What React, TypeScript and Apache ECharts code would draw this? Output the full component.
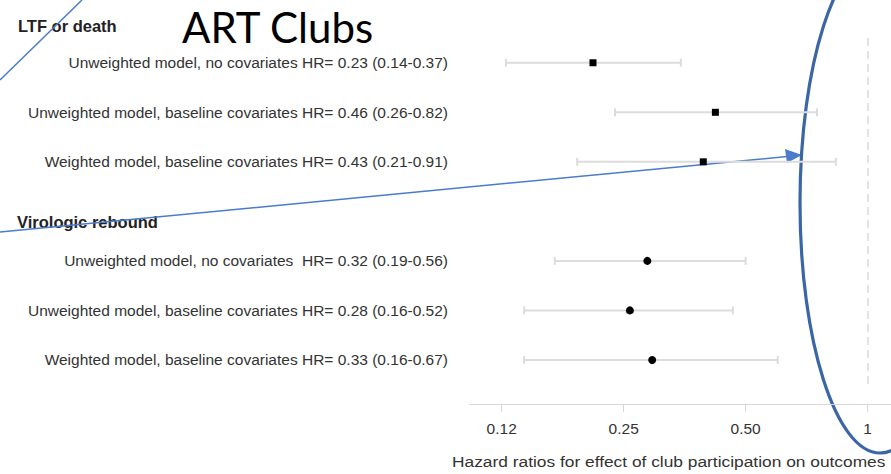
import React, { useEffect, useRef } from "react";
import * as echarts from "echarts";

const categories = [
  "Unweighted model, no covariates HR= 0.23 (0.14-0.37)",
  "Unweighted model, baseline covariates HR= 0.46 (0.26-0.82)",
  "Weighted model, baseline covariates HR= 0.43 (0.21-0.91)",
  "",
  "Unweighted model, no covariates  HR= 0.32 (0.19-0.56)",
  "Unweighted model, baseline covariates HR= 0.28 (0.16-0.52)",
  "Weighted model, baseline covariates HR= 0.33 (0.16-0.67)",
];
const groupOf = ["ltf", "ltf", "ltf", "", "vir", "vir", "vir"];
const hr = [0.21, 0.421, 0.393, null, 0.286, 0.259, 0.294];
const lower = [0.128, 0.238, 0.192, null, 0.169, 0.142, 0.142];
const upper = [0.346, 0.75, 0.835, null, 0.5, 0.465, 0.6];
const tickValues = [0.125, 0.25, 0.5, 1];
const tickLabels = ["0.12", "0.25", "0.50", "1"];
const headers = ["LTF or death", "Virologic rebound"];
const axisTitle = "Hazard ratios for effect of club participation on outcomes";
const slideTitle = "ART Clubs";

const FONT = '"Liberation Sans", Arial, Helvetica, sans-serif';

export default function App() {
  const ref = useRef<HTMLDivElement>(null);
  useEffect(() => {
    if (!ref.current) return;
    const chart = echarts.init(ref.current, null, { renderer: "svg" });

    const ciData: any[] = [];
    const sq: any[] = [];
    const ci: any[] = [];
    hr.forEach((v, i) => {
      if (v == null) return;
      ciData.push([lower[i], upper[i], i]);
      if (groupOf[i] === "ltf") sq.push([v, i]);
      else ci.push([v, i]);
    });

    const labelFor = (v: number) => {
      let best = -1;
      tickValues.forEach((t, k) => {
        if (Math.abs(Math.log(v / t)) < 0.05) best = k;
      });
      return best >= 0 ? tickLabels[best] : "";
    };

    const option: any = {
      animation: false,
      backgroundColor: "#ffffff",
      grid: { left: 470, right: 0, top: 38, bottom: 89.3, containLabel: false },
      xAxis: {
        type: "log",
        logBase: 2,
        min: 0.1044,
        max: 1.142,
        offset: 20,
        axisLine: { show: true, lineStyle: { color: "#d6d6d6", width: 1 } },
        axisTick: { show: true, length: 7, lineStyle: { color: "#d6d6d6" } },
        axisLabel: {
          formatter: (v: number) => labelFor(v),
          showMinLabel: false,
          showMaxLabel: false,
          color: "#333333",
          fontSize: 15.5,
          fontFamily: FONT,
          margin: 16,
        },
        splitLine: { show: false },
        minorTick: { show: false },
      },
      yAxis: {
        type: "category",
        data: categories,
        inverse: true,
        axisLine: { show: false },
        axisTick: { show: false },
        splitLine: { show: false },
        axisLabel: { color: "#333333", fontSize: 15.5, fontFamily: FONT, margin: 22 },
      },
      series: [
        {
          type: "custom",
          z: 1,
          data: ciData,
          encode: { x: 0, y: 2 },
          renderItem: (params: any, api: any) => {
            const a = api.coord([api.value(0), api.value(2)]);
            const b = api.coord([api.value(1), api.value(2)]);
            const style = { stroke: "#dcdcdc", lineWidth: 2 };
            return {
              type: "group",
              children: [
                { type: "line", shape: { x1: a[0], y1: a[1], x2: b[0], y2: b[1] }, style },
                { type: "line", shape: { x1: a[0], y1: a[1] - 4, x2: a[0], y2: a[1] + 4 }, style },
                { type: "line", shape: { x1: b[0], y1: b[1] - 4, x2: b[0], y2: b[1] + 4 }, style },
              ],
            };
          },
        },
        {
          type: "scatter",
          z: 3,
          symbol: "rect",
          symbolSize: 7,
          itemStyle: { color: "#000000", opacity: 1 },
          data: sq,
          markLine: {
            silent: true,
            symbol: "none",
            label: { show: false },
            lineStyle: { color: "#dadada", type: [8, 5], width: 1.5 },
            data: [{ xAxis: 1 }],
          },
        },
        {
          type: "scatter",
          z: 3,
          symbol: "circle",
          symbolSize: 8,
          itemStyle: { color: "#000000", opacity: 1 },
          data: ci,
        },
      ],
      graphic: [
        {
          type: "text",
          left: 18,
          top: 17,
          style: { text: headers[0], font: `bold 16.5px ${FONT}`, fill: "#222222" },
        },
        {
          type: "text",
          left: 17,
          top: 213,
          style: { text: headers[1], font: `bold 16.5px ${FONT}`, fill: "#222222" },
        },
        {
          type: "text",
          x: 452,
          y: 453,
          scaleX: 1.12,
          style: { text: axisTitle, font: `15.5px ${FONT}`, fill: "#333333" },
        },
        {
          type: "text",
          left: 182,
          top: 6,
          style: { text: slideTitle, font: `42px Lato, "Open Sans", sans-serif`, fill: "#000000" },
        },
        {
          type: "line",
          shape: { x1: 0, y1: 80, x2: 82, y2: 0 },
          style: { stroke: "#4a7cc9", lineWidth: 1.5 },
        },
        {
          type: "line",
          shape: { x1: 0, y1: 232, x2: 787, y2: 156.5 },
          style: { stroke: "#4a7cc9", lineWidth: 1.5 },
        },
        {
          type: "polygon",
          shape: { points: [[802, 155], [785, 149], [787, 163]] },
          style: { fill: "#4a7cc9" },
        },
        {
          type: "ellipse",
          shape: { cx: 880, cy: 203, rx: 80, ry: 250 },
          style: { stroke: "#3b66a6", lineWidth: 3.2, fill: "none" },
        },
      ],
    };
    chart.setOption(option);
    return () => chart.dispose();
  }, []);
  return (
    <div
      ref={ref}
      style={{ position: "absolute", left: 0, top: 0, width: 891, height: 474 }}
    />
  );
}
